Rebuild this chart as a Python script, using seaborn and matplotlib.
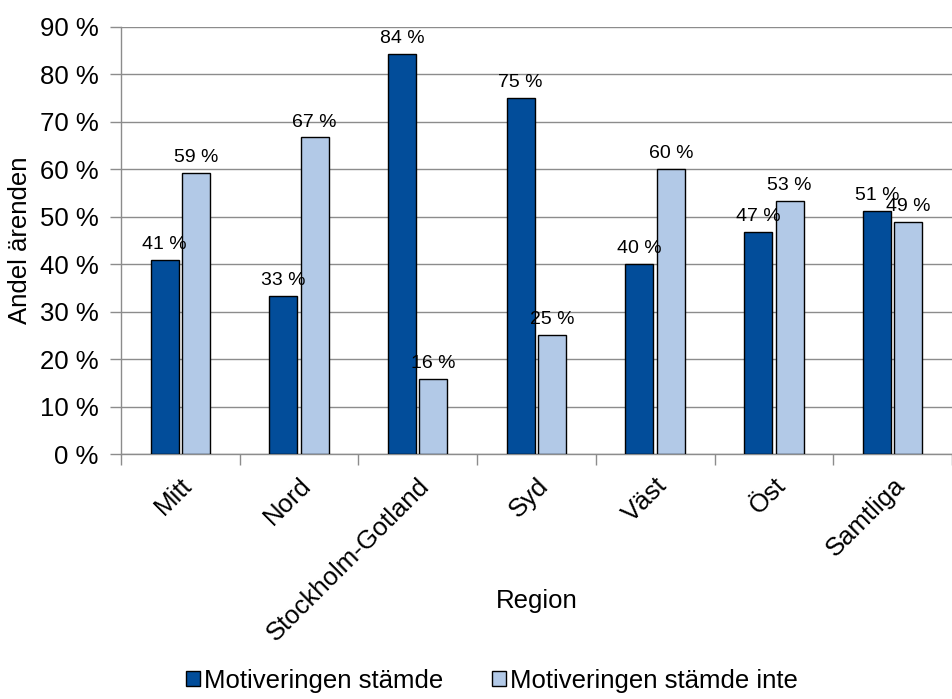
import matplotlib
matplotlib.use("Agg")
import matplotlib.pyplot as plt
import matplotlib.ticker as mticker
import numpy as np
import pandas as pd
import seaborn as sns

regions = ["Mitt", "Nord", "Stockholm-Gotland", "Syd", "Väst", "Öst", "Samtliga"]
series = ["Motiveringen stämde", "Motiveringen stämde inte"]
stamde = [40.8, 33.3, 84.2, 75.0, 40.0, 46.7, 51.2]
stamde_inte = [59.2, 66.7, 15.8, 25.0, 60.0, 53.3, 48.8]
yticks = [0, 10, 20, 30, 40, 50, 60, 70, 80, 90]

df = pd.DataFrame({
    "Region": regions * 2,
    "Serie": [series[0]] * len(regions) + [series[1]] * len(regions),
    "Andel": stamde + stamde_inte,
})

sns.set_style("white")
plt.rcParams["font.family"] = ["Liberation Sans", "DejaVu Sans"]
plt.rcParams["text.color"] = "black"
plt.rcParams["axes.labelcolor"] = "black"
plt.rcParams["xtick.color"] = "black"
plt.rcParams["ytick.color"] = "black"

fig = plt.figure(figsize=(9.52, 6.99), dpi=100)
ax = fig.add_axes([0.127, 0.3505, 0.873, 0.611])

palette = {series[0]: "#024D9A", series[1]: "#B2C9E7"}
sns.barplot(data=df, x="Region", y="Andel", hue="Serie", order=regions,
            hue_order=series, palette=palette, width=0.53, gap=0.11,
            edgecolor="black", linewidth=1.0, saturation=1, ax=ax, zorder=3)

for cont in ax.containers:
    vals = cont.datavalues
    ax.bar_label(cont, labels=[f"{round(v)} %" for v in vals], padding=5,
                 fontsize=14, color="black")

ax.set_xlim(-0.5, len(regions) - 0.5)
ax.set_ylim(0, 90)
ax.set_yticks(yticks)
ax.set_yticklabels([f"{v} %" for v in yticks])
ax.yaxis.grid(True, color="#8C8C8C", linewidth=1.0, zorder=0)
ax.set_axisbelow(True)

for side in ["top", "right"]:
    ax.spines[side].set_visible(False)
for side in ["left", "bottom"]:
    ax.spines[side].set_color("#8C8C8C")
    ax.spines[side].set_linewidth(1.0)

ax.tick_params(axis="y", which="major", left=True, length=8, width=1,
               color="#8C8C8C", labelcolor="black", labelsize=18.5, pad=8)
ax.xaxis.set_minor_locator(mticker.FixedLocator(np.arange(-0.5, len(regions), 1.0)))
ax.tick_params(axis="x", which="minor", bottom=True, length=8, width=1, color="#8C8C8C")
ax.tick_params(axis="x", which="major", bottom=False, length=0, labelsize=18.5,
               labelcolor="black", pad=14)
plt.setp(ax.get_xticklabels(), rotation=45, ha="right", va="top",
         rotation_mode="anchor")

ax.set_xlabel("Region", fontsize=18.5)
ax.xaxis.set_label_coords(0.5, -0.315)
ax.set_ylabel("Andel ärenden", fontsize=18.5, labelpad=6)

ax.legend_.remove()
handles = [plt.Rectangle((0, 0), 1, 1, facecolor=palette[s], edgecolor="black",
                         linewidth=1.0) for s in series]
fig.legend(handles, series, loc="lower center", bbox_to_anchor=(0.517, -0.024),
           ncol=2, frameon=False, fontsize=18.5, handlelength=0.55,
           handleheight=0.55, handletextpad=0.15, columnspacing=1.9)

fig.savefig("out.png", dpi=100)
